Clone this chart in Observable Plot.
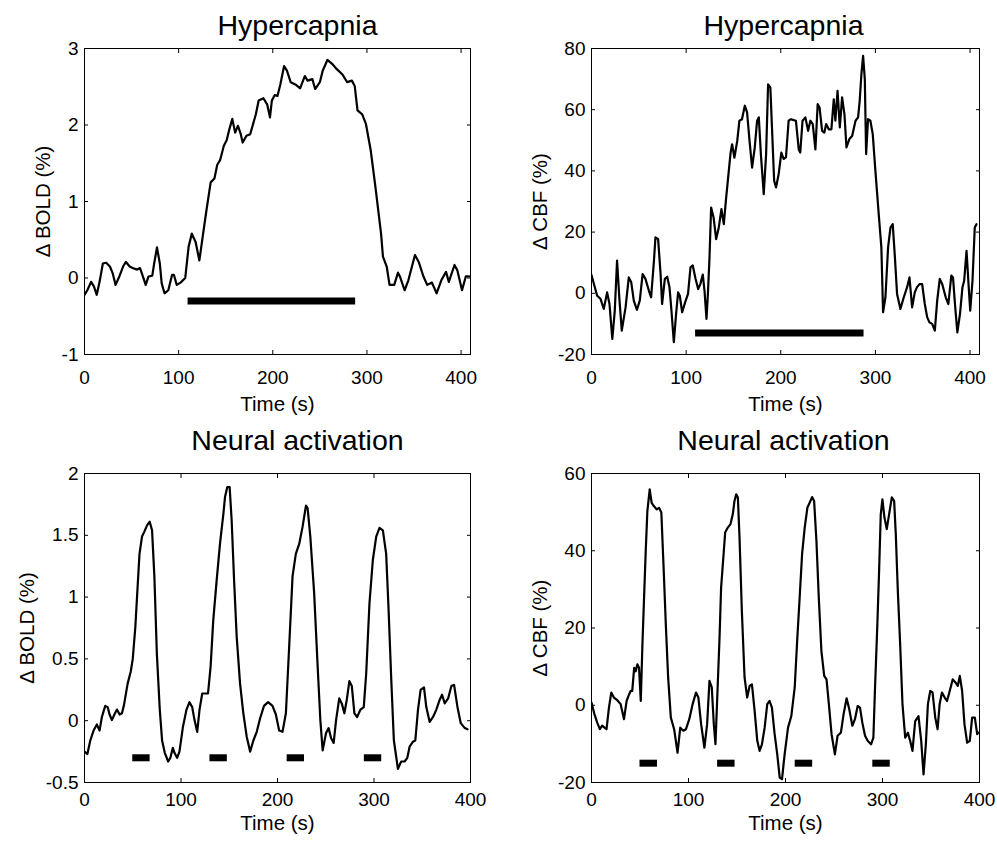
<!DOCTYPE html>
<html><head><meta charset="utf-8">
<script src="https://cdn.jsdelivr.net/npm/d3@7"></script>
<script src="https://cdn.jsdelivr.net/npm/@observablehq/plot@0.6"></script>
<style>
html,body{margin:0;padding:0;background:#fff;}
#chart{position:relative;width:997px;height:843px;background:#fff;overflow:hidden;}
.panel{position:absolute;}
</style></head><body><div id="chart"></div>
<script>
// ---------- tick labels ----------
const timeTicks = [0, 100, 200, 300, 400];
const hcBoldTicks = [-1, 0, 1, 2, 3];
const hcCbfTicks = [-20, 0, 20, 40, 60, 80];
const naBoldTicks = [-0.5, 0, 0.5, 1, 1.5, 2];
const naCbfTicks = [-20, 0, 20, 40, 60];

// ---------- texts ----------
const titles = ["Hypercapnia", "Hypercapnia", "Neural activation", "Neural activation"];
const yLabels = ["\u0394 BOLD (%)", "\u0394 CBF (%)", "\u0394 BOLD (%)", "\u0394 CBF (%)"];
const xLabel = "Time (s)";

// ---------- stimulus blocks ----------
const hcBlockStart = [110];
const hcBlockEnd = [288];
const naBlockStart = [50, 130, 210, 290];
const naBlockEnd = [68, 148, 228, 308];
const blockLevel = [-0.3, -13, -0.3, -15];

// ---------- series: [time (s), value] ----------
const hcBold = [[0,-0.22],[3,-0.16],[7,-0.05],[10,-0.11],[13,-0.22],[16,-0.05],[19.5,0.19],[23,0.2],[27,0.15],[30,0.06],[33,-0.09],[37,0.02],[41,0.15],[44,0.21],[48,0.15],[51,0.13],[56,0.11],[59,0.13],[62,0.02],[65,-0.09],[68,0.02],[72,0.03],[74,0.19],[77,0.40],[80,0.19],[82,-0.07],[85,-0.2],[89,-0.16],[93,0.04],[95,0.04],[98,-0.09],[102,-0.06],[107,0],[110.6,0.41],[114,0.58],[118,0.47],[122,0.23],[126,0.58],[129,0.84],[134,1.25],[138,1.3],[141,1.48],[144,1.54],[148,1.73],[151,1.8],[154,1.95],[157,2.08],[160,1.9],[163,1.99],[166,1.88],[168,1.77],[172,1.86],[176,1.88],[182,2.14],[185,2.32],[190,2.35],[194,2.27],[197,2.1],[199,2.32],[202,2.39],[205,2.38],[208,2.53],[212,2.77],[215,2.71],[219,2.56],[224,2.53],[229,2.48],[234,2.64],[237,2.58],[242,2.6],[245,2.47],[250,2.56],[253,2.71],[258,2.85],[263,2.8],[268,2.73],[274,2.66],[279,2.56],[284,2.58],[287,2.51],[290,2.19],[295,2.14],[299,2.01],[304,1.67],[309,1.19],[315,0.58],[317,0.28],[321,0.15],[324,-0.09],[329,-0.09],[333,0.07],[335,0.02],[340,-0.16],[344,-0.03],[351,0.3],[355,0.21],[360,0.02],[364,-0.09],[369,-0.06],[374,-0.2],[379,-0.03],[384,0.08],[387,-0.05],[393,0.17],[396,0.1],[401,-0.16],[405,0.02],[408.5,0.02]];

const hcCbf = [[0,6],[3.5,2],[6,-0.8],[9.5,-1.8],[13,-5.1],[16.5,0.3],[19,-3.5],[22,-14.9],[24.6,-5.7],[27,10.7],[29.6,-2.4],[32,-12.2],[36,-4.6],[39.4,5.2],[42,3.6],[44.7,-2.4],[48,-5.4],[51,-2.4],[54,6.3],[57,4.7],[60.6,0.9],[63,-1.3],[66,10.7],[67.6,18.3],[70.4,17.7],[73,6.3],[74.6,-3.5],[77.5,4.7],[80,5.4],[82.4,2],[84.5,-5.7],[87,-16],[89.4,-6.7],[91.5,0.3],[93.3,-0.8],[95.8,-6.2],[99,-2.9],[102,-0.2],[104.6,8.5],[107,9.1],[110,4.7],[112.7,1.4],[115,3],[117.6,6.1],[119.4,0.9],[121.5,-8.4],[123,-0.2],[124.7,11.8],[126.4,28],[129,24.8],[131.7,17.7],[134.5,21.5],[137.3,27.5],[139.8,22.6],[142,30.3],[144.4,37.9],[147,46],[148.6,48.7],[151,44.3],[154,49.8],[156.3,56.4],[159,56.9],[162,61.3],[164.4,59.1],[167,49.8],[169.7,41.1],[172.5,47.6],[175,56.4],[176.8,57.5],[179,45.4],[182,32.4],[184.5,45.4],[186.6,68.3],[189,67.2],[191,52],[193,36.8],[195,34.6],[197.8,39],[200.6,46],[203,43.9],[205.5,44.4],[208.3,56.4],[210.8,56.9],[213.6,56.6],[216,56.4],[219,47],[220.6,46],[223,56.4],[226,57.5],[228.9,53.1],[231.3,56.4],[233.8,55.3],[236.6,47],[239,61.8],[241,60.7],[243.7,53.1],[246,52.5],[248,55.3],[250.7,53.6],[253.5,53.6],[256,63.4],[257.7,56.4],[260,66.2],[262.4,54.2],[264.8,64],[267.3,58.5],[269.4,47.7],[272.5,50.4],[275.4,51.4],[279,56.4],[281.7,57.5],[283.4,62.9],[285.2,71.6],[287,77.6],[288.8,70],[290.2,45.5],[292.2,56.9],[294.7,56.4],[297.2,52],[300,40],[303.5,25.9],[306.3,15],[308.1,-6.2],[310.6,-1.3],[313.4,15],[315.9,21.5],[318.3,22.6],[320.4,12.8],[322.9,-0.2],[326.4,-5.1],[330,-1.3],[333.5,2],[336,5.2],[338.8,-4.6],[341.6,0.3],[344,2],[346.6,3],[349.4,3],[352.2,-3.5],[354.7,-7.8],[357.1,-9.5],[360,-10],[362.8,-12.2],[365.3,-2.4],[368,4.7],[370.6,3],[374.3,-1.3],[377.1,-3.5],[380.2,5.8],[382,5.2],[384.2,-4],[386.6,-12.8],[389.4,-6.7],[392,2],[393.8,4.1],[396.3,13.9],[398.4,3],[400.2,-5.7],[402.6,4.1],[405,21.5],[406.8,22.6]];

const naBold = [[0,-0.25],[3,-0.27],[6,-0.16],[9.4,-0.08],[12.8,-0.03],[15.6,-0.08],[18,0.03],[21.5,0.12],[24,0.11],[26,0.05],[28.4,0.005],[31,0.05],[33.6,0.09],[36.4,0.05],[38.8,0.06],[41,0.13],[44.7,0.3],[48,0.4],[50,0.5],[52.7,0.76],[55,1.08],[57,1.35],[59.6,1.49],[62,1.53],[64.8,1.58],[67.6,1.61],[70,1.54],[72.4,1.17],[75,0.54],[78,0.09],[80.4,-0.16],[83.2,-0.26],[86.7,-0.33],[89,-0.3],[91.5,-0.22],[93.2,-0.26],[96,-0.3],[98.4,-0.25],[102,-0.05],[105.7,0.09],[108.8,0.15],[111.6,0.11],[114,0.005],[116.8,-0.09],[119.2,0.09],[122,0.22],[125.5,0.22],[128,0.22],[130.7,0.44],[133.4,0.81],[137,1.14],[140.4,1.43],[144,1.68],[145.6,1.81],[148,1.89],[150.4,1.89],[152.5,1.62],[155,1.14],[157.7,0.68],[161.2,0.3],[164.6,0.06],[168.1,-0.13],[171.6,-0.25],[175,-0.16],[178.5,-0.09],[182,0.02],[186,0.12],[190.3,0.15],[194.8,0.12],[198.3,0.05],[201.7,-0.08],[205.2,-0.09],[208.7,0.06],[212.1,0.6],[215.6,1.17],[219,1.35],[222.5,1.43],[226,1.57],[229.5,1.74],[231.2,1.72],[234,1.49],[238,1.03],[241.6,0.44],[244.4,0.005],[246.8,-0.24],[250.3,-0.1],[253,-0.06],[255.5,-0.14],[258.2,-0.18],[260.7,0.005],[264,0.18],[266.6,0.14],[269.3,0.06],[271.8,0.17],[274.5,0.32],[277,0.28],[279.7,0.06],[282.5,0.03],[286,0.09],[289.4,0.11],[291.9,0.38],[295.3,0.95],[298.8,1.3],[302.3,1.49],[305.7,1.56],[309.2,1.54],[312.6,1.35],[315,0.92],[317.9,0.33],[320.6,-0.16],[324.8,-0.39],[328.2,-0.33],[331.7,-0.33],[334.5,-0.3],[336.9,-0.21],[340.4,-0.17],[342.8,-0.16],[345.6,0.09],[348.3,0.25],[351.8,0.27],[354.2,0.11],[357.7,-0.01],[361.2,0.03],[364.6,0.09],[368.1,0.17],[370.5,0.21],[373.3,0.14],[376.8,0.18],[380.2,0.28],[383,0.29],[386.5,0.11],[389.9,-0.02],[394.1,-0.06],[396.9,-0.07]];

const naCbf = [[0,0.7],[3,-2.3],[5.9,-4.5],[8.6,-6.2],[11,-5.3],[13.5,-5.8],[15.5,-6.2],[18,-0.6],[20.4,3.3],[23.1,2],[26.6,1.3],[30,0.3],[33.5,-3.6],[36.2,1.1],[38.7,2.8],[40.4,3.7],[42,3.7],[44,9.7],[45.6,8.8],[47.3,10.6],[49,9.7],[50.8,1.1],[52.5,15.8],[54.2,27.9],[55.9,39.9],[57.6,50.3],[60,55.9],[62,52.4],[64.5,51.5],[67.3,50.7],[69.7,51.1],[72,49.9],[74.2,36.5],[76.6,21],[79,7.2],[81.8,-3.2],[85.2,-6.2],[88.7,-12.3],[91.5,-5.8],[94.6,-6.6],[97.4,-6.2],[100.8,-3.6],[104.3,0.3],[107.7,3.3],[110.2,2],[113,-4.9],[116.4,-11],[119.2,-4.9],[121.6,6.3],[124,4.6],[126.1,-4.9],[127.8,-10.1],[129.5,1.1],[132,17.5],[133.6,30.4],[135.4,36.5],[137.8,44.7],[140.5,46],[143.3,46.9],[145.7,49.5],[147.4,52.9],[149.2,54.6],[150.9,53.8],[152.6,43.4],[155,24.4],[157.8,7.2],[160.5,2],[163,5],[165.4,5.4],[168.2,-1.5],[170.9,-9.2],[173.3,-11.8],[175.7,-10.1],[178.5,-5.8],[181.2,0.3],[183.6,1.1],[186,-0.6],[188.8,-7.5],[191.5,-12.7],[194,-18.7],[196.4,-19.1],[199.1,-12.7],[202.6,-5.8],[206,-2.8],[209.5,4.6],[212.2,17.5],[214.6,27.9],[217.1,39.1],[219.8,46],[222.6,51.2],[225,52.5],[227.4,53.9],[229.5,52.9],[231.9,42.5],[234.3,27.9],[237,14.1],[239.9,7.6],[242.3,6.7],[244.7,0.3],[247.5,-7.5],[250.9,-12.7],[253.7,-7.9],[257.1,-7.1],[259.9,-2.3],[263,1.8],[265.7,-1],[268.9,-5.3],[271.6,-3.6],[274.4,-0.2],[276.8,-0.6],[279.2,-4.5],[282,-7.9],[284.7,-9.2],[288.2,-10.1],[290.6,-8.4],[292.3,4.6],[294.7,21],[296.5,34.8],[298.2,49.4],[299.9,53.3],[302,48.6],[304.4,45.6],[306.8,49.4],[309.6,53.8],[312,52.9],[313.7,44.3],[315.8,29.6],[318.2,15.8],[320.6,0.3],[323.4,-8.4],[326.1,-7.1],[328.5,-9.2],[330.9,-11.8],[333.7,-4.1],[337.1,-2.8],[339.9,-9.2],[342.3,-17.9],[344.7,-10.1],[346.8,0.3],[349.2,3.7],[351.6,3.3],[354.4,-3.2],[356.8,-6.2],[358.9,0.3],[361.3,3.3],[364.1,2],[366.5,1.1],[369.3,3.7],[372.4,6.7],[375.2,5.9],[377.6,5],[379.7,7.6],[382.1,3.7],[384.5,-4.9],[387.3,-9.7],[390,-9.2],[392.4,-3.2],[395.2,-3.2],[397.6,-7.5],[398.6,-7.1]];

// ---------- build ----------
const fontFamily = '"Liberation Sans", Arial, Helvetica, sans-serif';
const blocks = (starts, ends, level) => starts.map((s, i) => ({x1: s, x2: ends[i], y: level}));

const panels = [
  {left: 0,   top: 0,   width: 490, height: 420, mL: 84, mR: 20, mT: 48, mB: 66,
   xDomain: [0, 410], yDomain: [-1, 3], yTicks: hcBoldTicks, series: hcBold,
   bars: blocks(hcBlockStart, hcBlockEnd, blockLevel[0]),
   title: titles[0], yLabel: yLabels[0], titleDx: 20, titleDy: -14, xPad: 20, xLabDy: 56, yLabDx: -41},
  {left: 500, top: 0,   width: 497, height: 420, mL: 91, mR: 18, mT: 48, mB: 66,
   xDomain: [0, 410], yDomain: [-20, 80], yTicks: hcCbfTicks, series: hcCbf,
   bars: blocks(hcBlockStart, hcBlockEnd, blockLevel[1]),
   title: titles[1], yLabel: yLabels[1], titleDx: -2, titleDy: -14, xPad: 20, xLabDy: 56, yLabDx: -51},
  {left: 0,   top: 420, width: 490, height: 423, mL: 84, mR: 20, mT: 53, mB: 61,
   xDomain: [0, 400], yDomain: [-0.5, 2], yTicks: naBoldTicks, series: naBold,
   bars: blocks(naBlockStart, naBlockEnd, blockLevel[2]),
   title: titles[2], yLabel: yLabels[2], titleDx: 20, titleDy: -24, xPad: 14, xLabDy: 47, yLabDx: -57},
  {left: 500, top: 420, width: 497, height: 423, mL: 91, mR: 18, mT: 53, mB: 61,
   xDomain: [0, 400], yDomain: [-20, 60], yTicks: naCbfTicks, series: naCbf,
   bars: blocks(naBlockStart, naBlockEnd, blockLevel[3]),
   title: titles[3], yLabel: yLabels[3], titleDx: -2, titleDy: -24, xPad: 14, xLabDy: 47, yLabDx: -51}
];

const chart = document.getElementById("chart");
for (const p of panels) {
  const svg = Plot.plot({
    width: p.width, height: p.height,
    marginLeft: p.mL, marginRight: p.mR, marginTop: p.mT, marginBottom: p.mB,
    x: {domain: p.xDomain},
    y: {domain: p.yDomain},
    style: {fontFamily, fontSize: "19px", color: "#000", background: "transparent", overflow: "visible"},
    marks: [
      Plot.axisX(timeTicks, {anchor: "bottom", tickSize: -4, tickPadding: p.xPad, tickFormat: d => String(d), label: null, fontSize: 19}),
      Plot.axisX(timeTicks, {anchor: "top", tickSize: -4, tickFormat: () => "", label: null}),
      Plot.axisY(p.yTicks, {anchor: "left", tickSize: -4, tickPadding: 10, tickFormat: d => String(d), label: null, fontSize: 19}),
      Plot.axisY(p.yTicks, {anchor: "right", tickSize: -4, tickFormat: () => "", label: null}),
      Plot.ruleY(p.bars, {y: "y", x1: "x1", x2: "x2", stroke: "#000", strokeWidth: 7}),
      Plot.line(p.series, {x: d => d[0], y: d => d[1], stroke: "#000", strokeWidth: 2.2, strokeLinejoin: "round", clip: true}),
      Plot.frame({stroke: "#000", strokeWidth: 1}),
      Plot.text([p.title], {text: d => d, frameAnchor: "top", lineAnchor: "bottom", dx: p.titleDx, dy: p.titleDy, fontSize: 28.5}),
      Plot.text([xLabel], {text: d => d, frameAnchor: "bottom", lineAnchor: "bottom", dy: p.xLabDy, fontSize: 20.5}),
      Plot.text([p.yLabel], {text: d => d, frameAnchor: "left", rotate: -90, textAnchor: "middle", lineAnchor: "middle", dx: p.yLabDx, fontSize: 20.5})
    ]
  });
  const wrap = document.createElement("div");
  wrap.className = "panel";
  wrap.style.left = p.left + "px";
  wrap.style.top = p.top + "px";
  wrap.appendChild(svg);
  chart.appendChild(wrap);
}
</script>
</body></html>
